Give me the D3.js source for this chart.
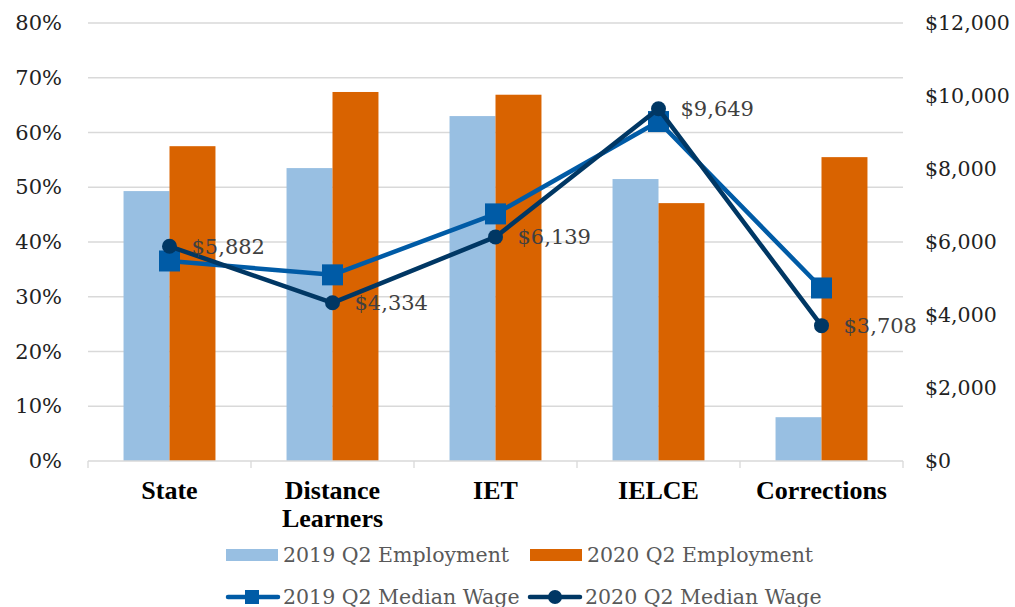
<!DOCTYPE html>
<html>
<head>
<meta charset="utf-8">
<script src="https://cdn.jsdelivr.net/npm/d3@7"></script>
<style>
  html, body { margin: 0; padding: 0; background: #fff; }
  svg { display: block; }
</style>
</head>
<body>
<svg id="chart" width="1015" height="607"></svg>
<script>
// Employment rates (left axis) and median wages (right axis) by program
const categories = [["State"], ["Distance", "Learners"], ["IET"], ["IELCE"], ["Corrections"]];
const employment2019 = [0.493, 0.535, 0.630, 0.515, 0.080];
const employment2020 = [0.575, 0.674, 0.669, 0.471, 0.555];
const wage2019 = [5480, 5100, 6770, 9300, 4740];
const wage2020 = [5882, 4334, 6139, 9649, 3708];
const pctTicks = [0, 0.1, 0.2, 0.3, 0.4, 0.5, 0.6, 0.7, 0.8];
const wageTicks = [0, 2000, 4000, 6000, 8000, 10000, 12000];

const colors = {
  emp2019: "#98bfe2",
  emp2020: "#d96300",
  wage2019: "#005ba6",
  wage2020: "#003764",
  grid: "#d9d9d9",
  tick: "#222222",
  legend: "#595959",
  label: "#404040"
};

const svg = d3.select("#chart");
const plot = { left: 88, right: 903, top: 23, bottom: 461 };
const serif = "'DejaVu Serif', Georgia, serif";

const keys = categories.map(c => c.join(" "));
const x = d3.scaleBand().domain(keys).range([plot.left, plot.right])
  .paddingInner(0.436).paddingOuter(0.218);
const yPct = d3.scaleLinear().domain([0, 0.8]).range([plot.bottom, plot.top]);
const yWage = d3.scaleLinear().domain([0, 12000]).range([plot.bottom, plot.top]);

// Gridlines
svg.append("g").selectAll("line").data(pctTicks.slice(1)).join("line")
  .attr("x1", plot.left).attr("x2", plot.right)
  .attr("y1", d => yPct(d)).attr("y2", d => yPct(d))
  .attr("stroke", colors.grid).attr("stroke-width", 1.3);

// Left axis
const leftAxis = svg.append("g").attr("transform", `translate(${plot.left},0)`)
  .call(d3.axisLeft(yPct).tickValues(pctTicks).tickFormat(d3.format(".0%")).tickSize(0).tickPadding(26));
leftAxis.select(".domain").remove();
leftAxis.selectAll("text").attr("font-family", serif).attr("font-size", 21)
  .attr("fill", colors.tick);

// Right axis
const rightAxis = svg.append("g").attr("transform", `translate(${plot.right},0)`)
  .call(d3.axisRight(yWage).tickValues(wageTicks).tickFormat(d => "$" + d3.format(",")(d)).tickSize(0).tickPadding(22));
rightAxis.select(".domain").remove();
rightAxis.selectAll("text").attr("font-family", serif).attr("font-size", 20.5)
  .attr("fill", colors.tick);

// Bars
const sub = d3.scaleBand().domain(["2019", "2020"]).range([0, x.bandwidth()]);
const barData = keys.flatMap((k, i) => [
  { k, s: "2019", v: employment2019[i], c: colors.emp2019 },
  { k, s: "2020", v: employment2020[i], c: colors.emp2020 }
]);
svg.append("g").selectAll("rect").data(barData).join("rect")
  .attr("x", d => x(d.k) + sub(d.s))
  .attr("width", sub.bandwidth())
  .attr("y", d => yPct(d.v))
  .attr("height", d => yPct(0) - yPct(d.v))
  .attr("fill", d => d.c);

// Category axis
const step = x.step();
const bottom = svg.append("g");
bottom.append("line").attr("x1", plot.left).attr("x2", plot.right)
  .attr("y1", plot.bottom).attr("y2", plot.bottom)
  .attr("stroke", colors.grid).attr("stroke-width", 1.3);
bottom.selectAll("line.tk").data(d3.range(keys.length + 1)).join("line").attr("class", "tk")
  .attr("x1", i => plot.left + i * step).attr("x2", i => plot.left + i * step)
  .attr("y1", plot.bottom).attr("y2", plot.bottom + 7)
  .attr("stroke", colors.grid).attr("stroke-width", 1.3);
const catText = bottom.selectAll("text").data(categories).join("text")
  .attr("x", (d, i) => x(keys[i]) + x.bandwidth() / 2)
  .attr("y", 499)
  .attr("text-anchor", "middle")
  .attr("font-family", "'Liberation Serif', 'Times New Roman', serif")
  .attr("font-weight", "bold").attr("font-size", 26).attr("fill", "#000");
catText.selectAll("tspan").data(d => d).join("tspan")
  .attr("x", function () { return this.parentNode.getAttribute("x"); })
  .attr("dy", (d, i) => i === 0 ? 0 : 28)
  .text(d => d);

// Wage lines
const cx = i => x(keys[i]) + x.bandwidth() / 2;
const line = d3.line().x((d, i) => cx(i)).y(d => yWage(d));

svg.append("path").datum(wage2019).attr("d", line)
  .attr("fill", "none").attr("stroke", colors.wage2019).attr("stroke-width", 4.5)
  .attr("stroke-linejoin", "round");
svg.append("g").selectAll("rect").data(wage2019).join("rect")
  .attr("x", (d, i) => cx(i) - 10.5).attr("y", d => yWage(d) - 10.5)
  .attr("width", 21).attr("height", 21).attr("fill", colors.wage2019);

svg.append("path").datum(wage2020).attr("d", line)
  .attr("fill", "none").attr("stroke", colors.wage2020).attr("stroke-width", 4.5)
  .attr("stroke-linejoin", "round");
svg.append("g").selectAll("circle").data(wage2020).join("circle")
  .attr("cx", (d, i) => cx(i)).attr("cy", d => yWage(d)).attr("r", 7.5)
  .attr("fill", colors.wage2020);

// Value labels for 2020 wages
svg.append("g").selectAll("text").data(wage2020).join("text")
  .attr("x", (d, i) => cx(i) + 22).attr("y", d => yWage(d) + 2)
  .attr("dominant-baseline", "middle")
  .attr("font-family", serif).attr("font-size", 21).attr("fill", colors.label)
  .text(d => "$" + d3.format(",")(d));

// Legend
const legend = svg.append("g").attr("font-family", serif).attr("font-size", 20.5)
  .attr("fill", colors.legend);
const legendItems = [
  { label: "2019 Q2 Employment", type: "bar", color: colors.emp2019, x: 226, y: 555 },
  { label: "2020 Q2 Employment", type: "bar", color: colors.emp2020, x: 530, y: 555 },
  { label: "2019 Q2 Median Wage", type: "square", color: colors.wage2019, x: 226, y: 597 },
  { label: "2020 Q2 Median Wage", type: "circle", color: colors.wage2020, x: 528, y: 597 }
];
legendItems.forEach(it => {
  const g = legend.append("g").attr("transform", `translate(${it.x},${it.y})`);
  if (it.type === "bar") {
    g.append("rect").attr("x", 0).attr("y", -6).attr("width", 52).attr("height", 12).attr("fill", it.color);
  } else {
    g.append("line").attr("x1", 2).attr("x2", 52).attr("y1", 0).attr("y2", 0)
      .attr("stroke", it.color).attr("stroke-width", 4.5).attr("stroke-linecap", "round");
    if (it.type === "square") {
      g.append("rect").attr("x", 19).attr("y", -7).attr("width", 14).attr("height", 14).attr("fill", it.color);
    } else {
      g.append("circle").attr("cx", 27).attr("cy", 0).attr("r", 7).attr("fill", it.color);
    }
  }
  g.append("text").attr("x", 57).attr("y", 1).attr("dominant-baseline", "middle").text(it.label);
});
</script>
</body>
</html>
